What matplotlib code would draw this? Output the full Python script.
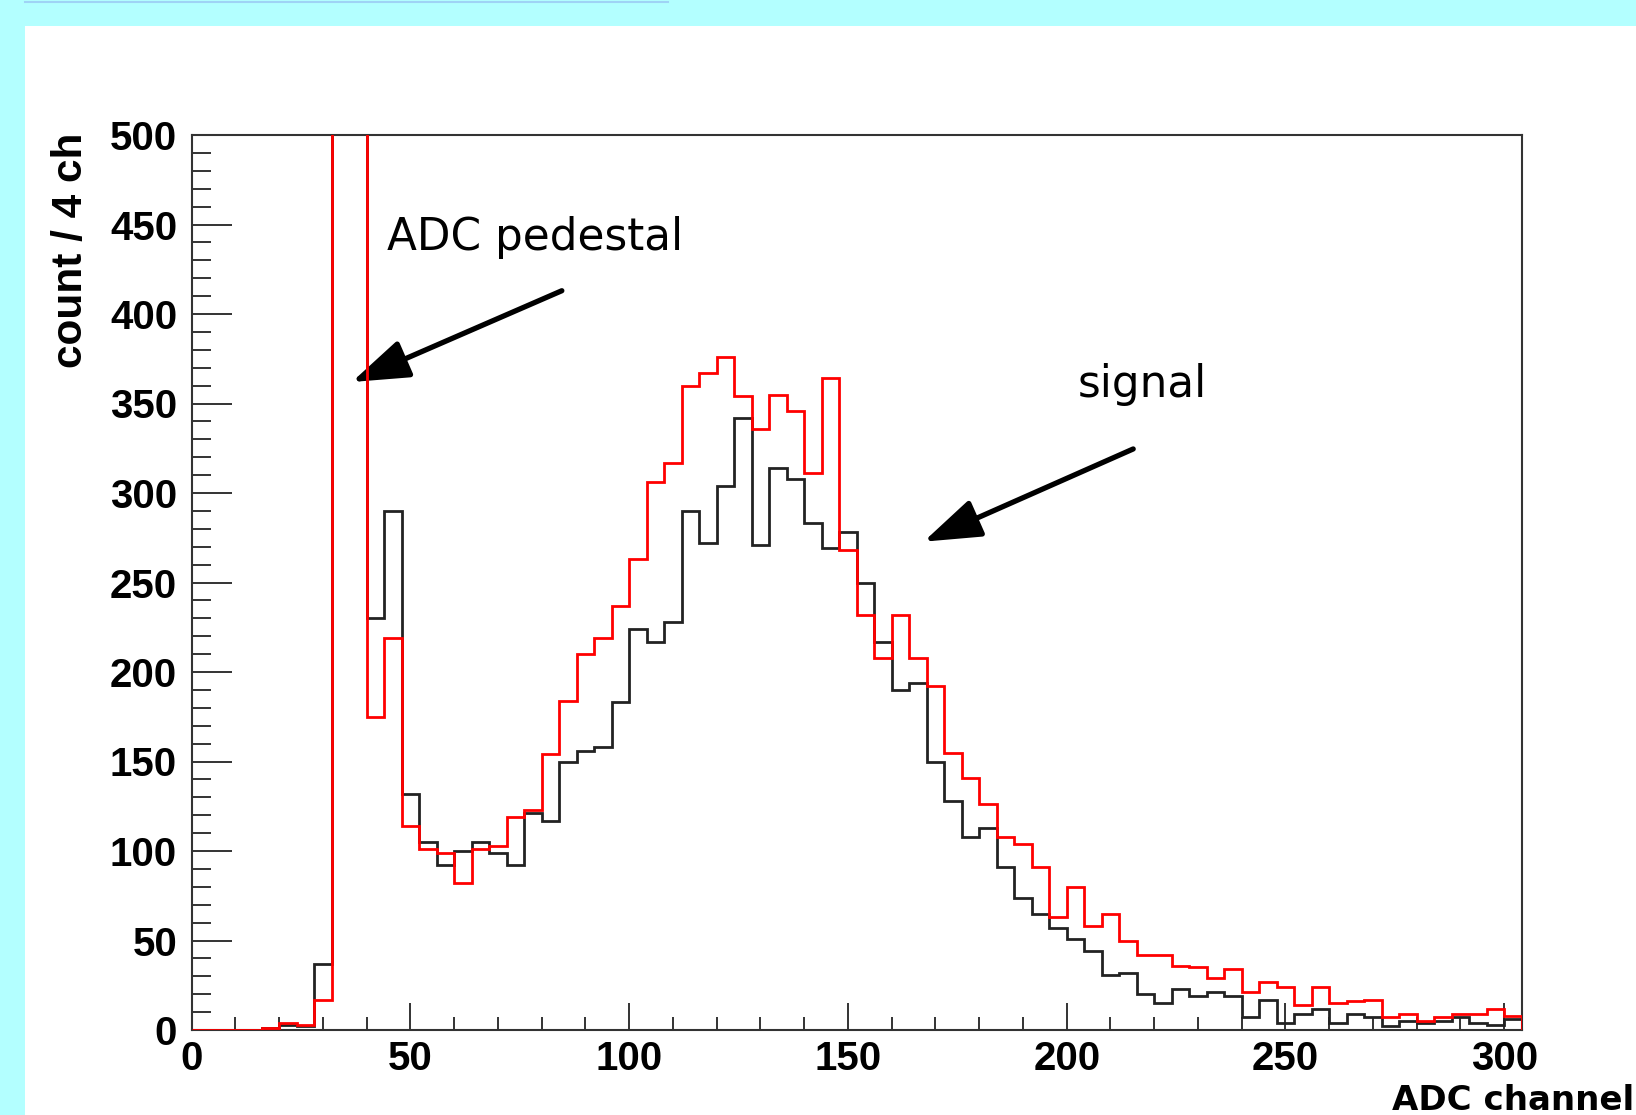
import numpy as np
import matplotlib
matplotlib.use("Agg")
import matplotlib.pyplot as plt
from matplotlib.ticker import MultipleLocator
from matplotlib.patches import Rectangle
from matplotlib.lines import Line2D

# ---- data (count per 4 ADC channels) ----
bin_edges = np.arange(0, 305, 4)          # 0,4,...,304  (76 bins)
black_counts = [0, 0, 0, 0, 1, 3, 2, 37, 980, 1450,
                230, 290, 132, 105, 92, 100, 105, 99, 92, 121,
                117, 150, 156, 158, 183, 224, 217, 228, 290, 272,
                304, 342, 271, 314, 308, 283, 269, 278, 250, 217,
                190, 194, 150, 128, 108, 113, 91, 74, 65, 57,
                51, 44, 31, 32, 20, 15, 23, 19, 21, 19,
                7, 17, 4, 9, 12, 4, 9, 7, 2, 5,
                4, 5, 7, 4, 3, 6]
red_counts = [0, 0, 0, 0, 1, 4, 3, 17, 1100, 1700,
              175, 219, 114, 101, 99, 82, 101, 103, 119, 123,
              154, 184, 210, 219, 237, 263, 306, 317, 360, 367,
              376, 354, 336, 355, 346, 311, 364, 268, 232, 208,
              232, 208, 192, 155, 141, 126, 108, 104, 91, 63,
              80, 58, 65, 50, 42, 42, 36, 35, 29, 34,
              21, 27, 24, 14, 24, 15, 16, 17, 7, 9,
              5, 7, 9, 9, 12, 8]
x_ticks = [0, 50, 100, 150, 200, 250, 300]
y_ticks = [0, 50, 100, 150, 200, 250, 300, 350, 400, 450, 500]

W, H = 1636, 1115
fig = plt.figure(figsize=(W / 100, H / 100), dpi=100)
fig.patch.set_facecolor("#b3ffff")
fig.patches.append(Rectangle((25 / W, 0), 1 - 25 / W, 1 - 26 / H,
                             transform=fig.transFigure, facecolor="white",
                             edgecolor="none", zorder=-10))
fig.lines.append(Line2D([25 / W, 668 / W], [1 - 1.5 / H, 1 - 1.5 / H],
                        transform=fig.transFigure, color="#9fd3f5", lw=1.5,
                        zorder=-9))

ax = fig.add_axes([191.7 / W, 1 - 1030 / H, (1521.7 - 191.7) / W, (1030 - 135) / H])
ax.set_zorder(5)
ax.set_facecolor("white")

ax.stairs(black_counts, bin_edges, color="#222222", lw=2.0, zorder=3)
ax.stairs(red_counts, bin_edges, color="#ff0000", lw=2.0, zorder=3.1)

ax.set_xlim(0, 304)
ax.set_ylim(0, 500)
ax.set_xticks(x_ticks)
ax.set_yticks(y_ticks)
ax.xaxis.set_minor_locator(MultipleLocator(10))
ax.yaxis.set_minor_locator(MultipleLocator(10))

for s in ax.spines.values():
    s.set_color("#333333")
    s.set_linewidth(1.5)

ax.tick_params(axis="y", which="major", direction="in", length=28.8, width=1.4,
               color="#333333", pad=10.5)
ax.tick_params(axis="y", which="minor", direction="in", length=13.7, width=1.4,
               color="#333333")
ax.tick_params(axis="x", which="major", direction="in", length=19.4, width=1.4,
               color="#333333", pad=7.5)
ax.tick_params(axis="x", which="minor", direction="in", length=9.4, width=1.4,
               color="#333333")
for lab in ax.get_xticklabels() + ax.get_yticklabels():
    lab.set_fontfamily("Liberation Sans")
    lab.set_fontweight("bold")
    lab.set_fontsize(29)

# axis titles
fig.text(71 / W, 1 - 133 / H, "count / 4 ch", rotation=90, ha="center", va="top",
         family="Liberation Sans", weight="bold", fontsize=30.5, zorder=6)
fig.text(1634 / W, 1 - 1110 / H, "ADC channel", ha="right", va="baseline",
         family="DejaVu Sans", weight="bold", fontsize=24.5, zorder=6)

# annotations
arrow_kw = dict(arrowstyle="-|>,head_length=1.75,head_width=0.6", lw=3.8,
                color="black", mutation_scale=20, shrinkA=0, shrinkB=0)
ax.annotate("", xy=(36.6, 362), xytext=(84.6, 413), arrowprops=arrow_kw,
            annotation_clip=False)
ax.annotate("", xy=(167.3, 272.8), xytext=(215.2, 324.6), arrowprops=arrow_kw,
            annotation_clip=False)
ax.text(44.6, 435.8, "ADC pedestal", ha="left", va="baseline",
        family="DejaVu Sans", fontsize=31.5)
ax.text(202.5, 353.8, "signal", ha="left", va="baseline",
        family="DejaVu Sans", fontsize=31.5)

fig.savefig("out.png", dpi=100, facecolor=fig.get_facecolor())
